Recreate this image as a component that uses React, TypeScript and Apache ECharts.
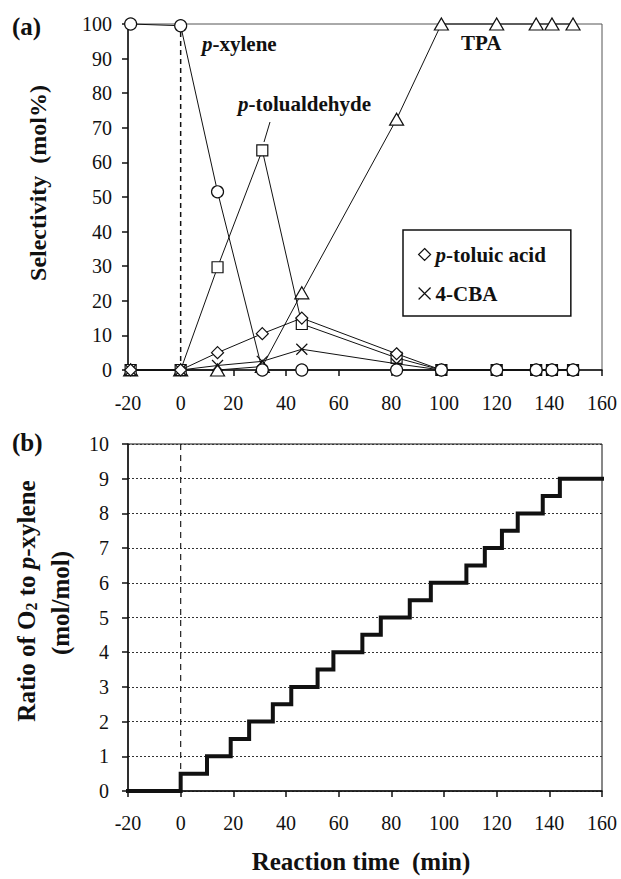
import React, { useEffect, useRef } from 'react';
import * as echarts from 'echarts';

// ---- Panel (a): selectivity vs reaction time ----
const timeA = [-19, 0, 14, 31, 46, 82, 99, 120, 135, 141, 149];
const xyleneSel = [100, 99.5, 51.5, 0, 0, 0, 0, 0, 0, 0, 0];
const tolualdehydeSel = [0, 0, 29.7, 63.5, 13.3, 3.5, 0, 0, 0, 0, 0];
const tpaSel = [0, 0, 0, 1, 22.3, 72.5, 100, 100, 100, 100, 100];
const toluicAcidSel = [0, 0, 5, 10.5, 15, 4.7, 0, 0, 0, 0, 0];
const cbaSel = [0, 0, 1.3, 2.5, 6, 1.8, 0, 0, 0, 0, 0];

// ---- Panel (b): O2 / p-xylene ratio (step profile) ----
const stepTimes = [-20, 0, 10, 19, 26, 35, 42, 52, 58, 69, 76, 87, 95, 108.5, 115.5, 122, 128, 137.5, 144, 160];
const stepRatios = [0, 0.5, 1, 1.5, 2, 2.5, 3, 3.5, 4, 4.5, 5, 5.5, 6, 6.5, 7, 7.5, 8, 8.5, 9, 9];

const xTicks = { min: -20, max: 160, interval: 20 };

const FONT = 'Liberation Serif, serif';
const INK = '#111';
const CROSS = 'path://M0,0L10,10M10,0L0,10';

export default function App() {
  const ref = useRef<HTMLDivElement>(null);

  useEffect(() => {
    const chart = echarts.init(ref.current as HTMLDivElement, null, { renderer: 'svg' });

    const bold = { fontFamily: FONT, fontWeight: 'bold', fontSize: 21, color: INK };
    const ital = { ...bold, fontStyle: 'italic' };
    const pairs = (ys: number[]) => timeA.map((t, i) => [t, ys[i]]);

    const mk = (name: string, ys: number[], symbol: string, size: number | number[], z: number) => ({
      type: 'line',
      name,
      data: pairs(ys),
      xAxisIndex: 0,
      yAxisIndex: 0,
      symbol,
      symbolSize: size,
      showSymbol: true,
      showAllSymbol: true,
      clip: false,
      z,
      lineStyle: { color: INK, width: 1 },
      itemStyle: { color: '#fff', borderColor: INK, borderWidth: 1.2 },
      emphasis: { disabled: true },
    });

    const axisCommon = {
      axisLine: { show: true, onZero: false, lineStyle: { color: INK, width: 1.5 } },
      axisTick: { show: true, inside: false, length: 6, lineStyle: { color: INK, width: 1.5 } },
      axisLabel: { fontFamily: FONT, fontSize: 20, color: INK },
    };

    const titleText = (text: string, x: number, y: number, rot = 0, size = 24, align = 'center') => ({
      type: 'text',
      x,
      y,
      rotation: rot,
      silent: true,
      style: {
        text,
        x: 0,
        y: 0,
        textAlign: align,
        textVerticalAlign: 'middle',
        align,
        verticalAlign: 'middle',
        fill: INK,
        fontFamily: FONT,
        fontWeight: 'bold',
        fontSize: size,
        rich: {
          b: { fontFamily: FONT, fontWeight: 'bold', fontSize: size, fill: INK, color: INK },
          i: { fontFamily: FONT, fontWeight: 'bold', fontStyle: 'italic', fontSize: size, fill: INK, color: INK },
          s: { fontFamily: FONT, fontWeight: 'bold', fontSize: Math.round(size * 0.62), fill: INK, color: INK, padding: [Math.round(size * 0.45), 0, 0, 0] },
        },
      },
    });

    const option = {
      animation: false,
      backgroundColor: '#fff',
      grid: [
        { left: 128, right: 19, top: 24, height: 346, show: true, borderColor: '#555', borderWidth: 1, backgroundColor: 'transparent' },
        { left: 128, right: 19, top: 444, height: 347, show: true, borderColor: INK, borderWidth: 1, backgroundColor: 'transparent' },
      ],
      xAxis: [
        {
          type: 'value', gridIndex: 0, ...xTicks, ...axisCommon,
          axisLabel: { ...axisCommon.axisLabel, margin: 23 },
          splitLine: { show: false },
        },
        {
          type: 'value', gridIndex: 1, ...xTicks, ...axisCommon,
          axisLabel: { ...axisCommon.axisLabel, margin: 22 },
          splitLine: { show: false },
        },
      ],
      yAxis: [
        {
          type: 'value', gridIndex: 0, min: 0, max: 100, interval: 10, ...axisCommon,
          axisLabel: { ...axisCommon.axisLabel, margin: 16 },
          splitLine: { show: false },
        },
        {
          type: 'value', gridIndex: 1, min: 0, max: 10, interval: 1, ...axisCommon,
          axisLabel: { ...axisCommon.axisLabel, margin: 19 },
          splitLine: { show: true, lineStyle: { color: '#333', width: 1, type: [2, 2] } },
        },
      ],
      legend: {
        data: [
          { name: 'p-toluic acid', icon: 'diamond' },
          { name: '4-CBA', icon: CROSS },
        ],
        orient: 'vertical',
        left: 403,
        top: 230,
        backgroundColor: '#fff',
        borderColor: INK,
        borderWidth: 1.5,
        padding: [14, 25, 12, 15],
        itemGap: 18,
        itemWidth: 12,
        itemHeight: 12,
        selectedMode: false,
        itemStyle: { color: '#fff', borderColor: INK, borderWidth: 1.2 },
        textStyle: { ...bold, rich: { i: ital, b: bold } },
        formatter: (n: string) => (n === 'p-toluic acid' ? '{i|p}{b|-toluic acid}' : '{b|4-CBA}'),
      },
      series: [
        {
          type: 'line', name: 'start-a', xAxisIndex: 0, yAxisIndex: 0,
          data: [[0, 0], [0, 99]], symbol: 'none', silent: true, z: 1,
          lineStyle: { color: INK, width: 1.5, type: [5, 4] },
        },
        {
          type: 'line', name: 'start-b', xAxisIndex: 1, yAxisIndex: 1,
          data: [[0, 0], [0, 10]], symbol: 'none', silent: true, z: 1,
          lineStyle: { color: '#222', width: 1.2, type: [6, 5] },
        },
        mk('TPA', tpaSel, 'triangle', [14, 12], 2),
        mk('p-tolualdehyde', tolualdehydeSel, 'rect', 11, 3),
        mk('4-CBA', cbaSel, CROSS, 11, 4),
        mk('p-toluic acid', toluicAcidSel, 'diamond', 12, 5),
        mk('p-xylene', xyleneSel, 'circle', 12, 6),
        {
          type: 'line', name: 'O2 ratio', xAxisIndex: 1, yAxisIndex: 1,
          data: stepTimes.map((t, i) => [t, stepRatios[i]]),
          step: 'end', symbol: 'none', clip: false, z: 3,
          lineStyle: { color: INK, width: 4, cap: 'square', join: 'miter' },
        },
      ],
      graphic: [
        titleText('(a)', 12, 26, 0, 25, 'left'),
        titleText('(b)', 12, 442, 0, 25, 'left'),
        titleText('Selectivity  (mol%)', 38, 183, Math.PI / 2, 24),
        titleText('{b|Ratio of O}{s|2}{b| to }{i|p}{b|-xylene}', 26, 601, Math.PI / 2, 25),
        titleText('(mol/mol)', 60, 603, Math.PI / 2, 25),
        titleText('Reaction time  (min)', 361, 861, 0, 25),
        titleText('{i|p}{b|-xylene}', 202, 44, 0, 21, 'left'),
        titleText('{i|p}{b|-tolualdehyde}', 238, 104, 0, 21, 'left'),
        titleText('TPA', 461, 43, 0, 21, 'left'),
        {
          type: 'line', silent: true,
          shape: { x1: 270, y1: 122, x2: 264, y2: 142 },
          style: { stroke: INK, lineWidth: 1 },
        },
      ],
    };

    chart.setOption(option as any);
    return () => chart.dispose();
  }, []);

  return <div ref={ref} style={{ position: 'fixed', left: 0, top: 0, width: 621, height: 879, background: '#fff' }} />;
}
